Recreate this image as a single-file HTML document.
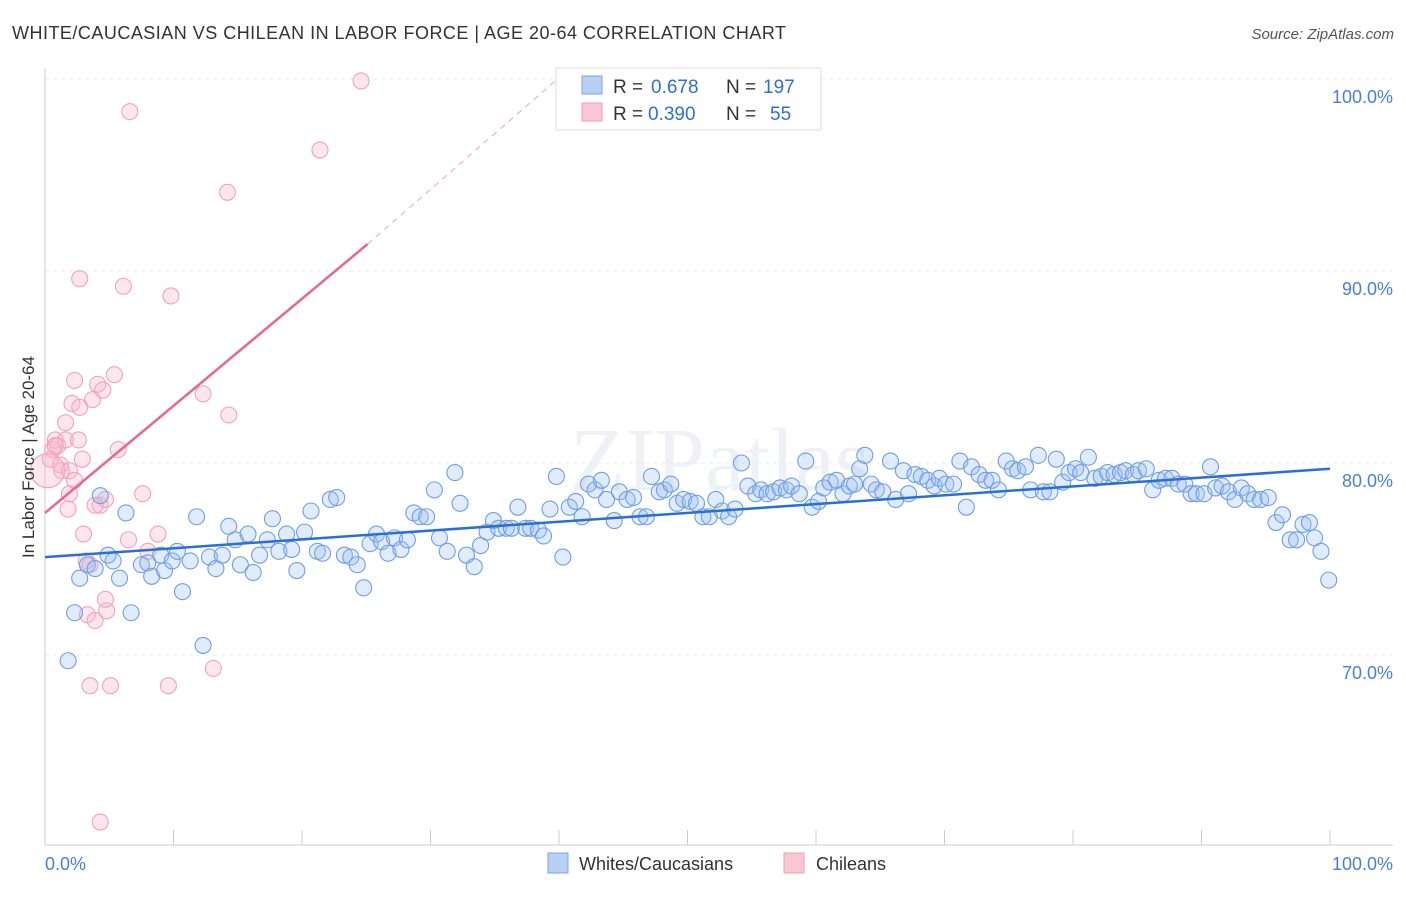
<!DOCTYPE html>
<html><head><meta charset="utf-8"><style>
body{margin:0;background:#fff;font-family:"Liberation Sans",sans-serif;}
</style></head><body>
<svg id="chart" width="1406" height="892" xmlns="http://www.w3.org/2000/svg">
<text x="12" y="39" font-size="18" fill="#333" textLength="774" lengthAdjust="spacing">WHITE/CAUCASIAN VS CHILEAN IN LABOR FORCE | AGE 20-64 CORRELATION CHART</text>
<text x="1394" y="39" font-size="15" fill="#555" font-style="italic" text-anchor="end">Source: ZipAtlas.com</text>
<text x="720" y="490" font-size="90" fill="#eef1f5" text-anchor="middle" font-family="Liberation Serif, serif">ZIPatlas</text>
<g id="grid"></g><g id="axes"></g><g id="pts"></g><g id="lines"></g>
<text transform="translate(34,457) rotate(-90)" font-size="17" fill="#333" text-anchor="middle">In Labor Force | Age 20-64</text>
<text x="45" y="870" font-size="18" fill="#4a7fd4">0.0%</text>
<text x="1393" y="870" font-size="18" fill="#4a7fd4" text-anchor="end">100.0%</text>
<g>
<rect x="556" y="68" width="265" height="62" fill="#fff" stroke="#ddd"/>
<rect x="582" y="76" width="20" height="18" fill="#b9d0f5" stroke="#7aa3e6"/>
<rect x="582" y="103" width="20" height="18" fill="#f9c6d4" stroke="#ef9fb7"/>
<text x="613" y="93" font-size="19" fill="#333">R =</text>
<text x="651" y="93" font-size="19" fill="#2f6fd6">0.678</text>
<text x="726" y="93" font-size="19" fill="#333">N =</text>
<text x="763" y="93" font-size="19" fill="#2f6fd6">197</text>
<text x="613" y="120" font-size="19" fill="#333">R =</text>
<text x="648" y="120" font-size="19" fill="#2f6fd6">0.390</text>
<text x="726" y="120" font-size="19" fill="#333">N =</text>
<text x="770" y="120" font-size="19" fill="#2f6fd6">55</text>
</g>
<g>
<rect x="548" y="853" width="20" height="20" fill="#b9d0f5" stroke="#7aa3e6"/>
<text x="579" y="870" font-size="18" fill="#333">Whites/Caucasians</text>
<rect x="784" y="853" width="20" height="20" fill="#f9c6d4" stroke="#ef9fb7"/>
<text x="816" y="870" font-size="18" fill="#333">Chileans</text>
</g>
</svg>
<script>
const blueX=[1.8,2.3,2.7,3.3,3.9,4.3,4.9,5.3,5.8,6.3,6.7,7.5,8.0,8.3,9.0,9.3,9.9,10.3,10.7,11.3,11.8,12.3,12.8,13.3,13.8,14.3,14.8,15.2,15.8,16.2,16.7,17.3,17.7,18.2,18.8,19.2,19.6,20.2,20.7,21.2,21.6,22.2,22.7,23.3,23.8,24.3,24.8,25.3,25.8,26.2,26.7,27.2,27.7,28.2,28.7,29.2,29.7,30.3,30.7,31.3,31.9,32.3,32.8,33.4,33.9,34.4,34.9,35.3,35.9,36.3,36.8,37.4,37.8,38.4,38.8,39.3,39.8,40.3,40.8,41.3,41.8,42.3,42.8,43.3,43.7,44.3,44.7,45.3,45.8,46.3,46.8,47.2,47.8,48.2,48.7,49.2,49.7,50.2,50.7,51.2,51.7,52.2,52.7,53.2,53.7,54.2,54.7,55.3,55.7,56.2,56.7,57.2,57.7,58.1,58.7,59.2,59.7,60.2,60.6,61.1,61.6,62.1,62.6,63.0,63.4,63.8,64.3,64.7,65.2,65.8,66.2,66.8,67.2,67.7,68.2,68.7,69.2,69.6,70.1,70.7,71.2,71.7,72.1,72.7,73.2,73.7,74.2,74.8,75.3,75.7,76.3,76.7,77.3,77.7,78.2,78.7,79.2,79.7,80.2,80.6,81.2,81.7,82.2,82.7,83.2,83.7,84.1,84.7,85.1,85.7,86.2,86.7,87.2,87.7,88.2,88.7,89.2,89.6,90.2,90.7,91.1,91.6,92.1,92.6,93.1,93.6,94.1,94.6,95.2,95.8,96.3,96.9,97.4,97.9,98.4,98.8,99.3,99.9];
const blueY=[69.7,72.2,74.0,74.7,74.5,78.3,75.2,74.9,74.0,77.4,72.2,74.7,74.8,74.1,75.2,74.4,74.9,75.4,73.3,74.9,77.2,70.5,75.1,74.5,75.2,76.7,76.0,74.7,76.3,74.3,75.2,76.0,77.1,75.4,76.3,75.5,74.4,76.4,77.5,75.4,75.3,78.1,78.2,75.2,75.1,74.7,73.5,75.8,76.3,75.9,75.3,76.1,75.5,76.0,77.4,77.2,77.2,78.6,76.1,75.4,79.5,77.9,75.2,74.6,75.7,76.4,77.0,76.6,76.6,76.6,77.7,76.6,76.6,76.5,76.2,77.6,79.3,75.1,77.7,78.0,77.2,78.9,78.6,79.1,78.1,77.0,78.5,78.1,78.2,77.2,77.2,79.3,78.5,78.6,78.9,77.9,78.1,78.0,77.9,77.2,77.2,78.1,77.5,77.2,77.6,80.0,78.8,78.4,78.6,78.4,78.5,78.7,78.6,78.8,78.4,80.1,77.7,78.0,78.7,79.0,79.1,78.4,78.8,78.9,79.7,80.4,78.9,78.6,78.5,80.1,78.1,79.6,78.4,79.4,79.3,79.1,78.8,79.2,78.9,78.9,80.1,77.7,79.8,79.4,79.1,79.1,78.6,80.1,79.7,79.6,79.8,78.6,80.4,78.5,78.5,80.2,79.0,79.5,79.7,79.5,80.3,79.2,79.3,79.5,79.4,79.5,79.6,79.4,79.6,79.7,78.6,79.1,79.2,79.2,78.9,78.9,78.4,78.4,78.4,79.8,78.7,78.8,78.5,78.1,78.7,78.4,78.1,78.1,78.2,76.9,77.3,76.0,76.0,76.8,76.9,76.1,75.4,73.9];
const pinkX=[0.4,0.6,0.8,1.0,1.3,1.6,1.8,1.9,2.1,2.3,2.6,2.7,2.9,3.0,3.2,3.3,3.5,3.7,3.9,4.1,4.3,4.5,4.7,4.8,5.1,5.4,5.7,6.1,6.5,6.6,7.6,8.0,8.8,9.6,9.8,12.3,13.1,14.2,14.3,21.4,24.6,4.3,2.7,1.6,0.8,1.2,1.9,2.3,3.5,3.9,4.7];
const pinkY=[80.2,80.7,81.2,80.9,79.6,81.2,77.6,78.4,83.1,84.3,81.2,82.9,80.2,76.3,74.9,72.1,68.4,83.3,71.8,84.1,77.8,83.8,78.1,72.3,68.4,84.6,80.7,89.2,76.0,98.3,78.4,75.4,76.3,68.4,88.7,83.6,69.3,94.1,82.5,96.3,99.9,61.3,89.6,82.1,80.9,79.9,79.6,79.1,74.7,77.8,72.9];
const bigPink=[0.2,79.6];
const xTicks=[0,10,20,30,40,50,60,70,80,90,100];
const yGrid=[100,90,80,70];
const yLabels=["100.0%","90.0%","80.0%","70.0%"];
const blueLine=[[0,75.1],[100,79.7]];
const pinkLine=[[0,77.4],[25.1,91.4]];
const pinkDash=[[25.1,91.4],[39.8,99.95]];

const NS="http://www.w3.org/2000/svg";
const sx=v=>45+v*12.85, sy=v=>79+(100-v)*19.2;
function mk(tag,attrs,parent){const e=document.createElementNS(NS,tag);for(const k in attrs)e.setAttribute(k,attrs[k]);document.getElementById(parent).appendChild(e);return e;}
yGrid.forEach((v,i)=>{
 const l=mk('line',{x1:45,x2:1393,y1:sy(v),y2:sy(v),stroke:'#ebebeb','stroke-dasharray':'4,4'},'grid');
 
 
 const t=mk('text',{x:1393,y:sy(v)+24,'font-size':18,fill:'#4a7fd4','text-anchor':'end'},'grid');
 t.textContent=yLabels[i];
 
 
});
const ax=mk('line',{x1:45,x2:1393,y1:845,y2:845,stroke:'#ccc'},'axes');


const ay=mk('line',{x1:45,x2:45,y1:68,y2:845,stroke:'#ccc'},'axes');


xTicks.forEach(v=>{
 const t=mk('line',{x1:sx(v),x2:sx(v),y1:830,y2:845,stroke:'#ccc'},'axes');
 
 
});
pinkX.forEach((x,i)=>{
 const c=mk('circle',{cx:sx(x),cy:sy(pinkY[i]),r:8,fill:'rgba(248,182,202,0.35)',stroke:'#f0a3ba','stroke-width':1.1},'pts');
 
 
});
const bp=mk('circle',{cx:sx(bigPink[0]),cy:sy(bigPink[1]),r:17,fill:'rgba(248,182,202,0.35)',stroke:'#f0a3ba','stroke-width':1.1},'pts');


blueX.forEach((x,i)=>{
 const c=mk('circle',{cx:sx(x),cy:sy(blueY[i]),r:8,fill:'rgba(160,192,242,0.32)',stroke:'#6f9ee6','stroke-width':1.1},'pts');
 
 
});
const bl=mk('line',{x1:sx(blueLine[0][0]),y1:sy(blueLine[0][1]),x2:sx(blueLine[1][0]),y2:sy(blueLine[1][1]),stroke:'#2a6fd6','stroke-width':2.5},'lines');


const pl=mk('line',{x1:sx(pinkLine[0][0]),y1:sy(pinkLine[0][1]),x2:sx(pinkLine[1][0]),y2:sy(pinkLine[1][1]),stroke:'#e9668f','stroke-width':2.5},'lines');


const pd=mk('line',{x1:sx(pinkDash[0][0]),y1:sy(pinkDash[0][1]),x2:sx(pinkDash[1][0]),y2:sy(pinkDash[1][1]),stroke:'#f0b0c4','stroke-width':1.2,'stroke-dasharray':'6,5'},'lines');


</script>
</body></html>
